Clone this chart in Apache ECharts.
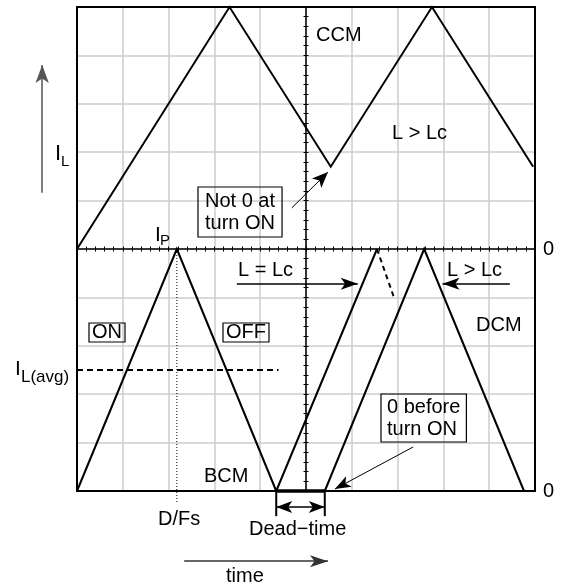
<!DOCTYPE html>
<html>
<head>
<meta charset="utf-8">
<script src="https://cdn.jsdelivr.net/npm/echarts@6/dist/echarts.min.js"></script>
<style>
html,body{margin:0;padding:0;background:#fff;}
#main{width:562px;height:588px;}
</style>
</head>
<body>
<div id="main"></div>
<script>
// waveforms, in scope divisions (x: 0..10, y: 0..10, middle line = 5)
var ccmWave      = [[0,5],[3.33,10],[5.54,6.7],[7.75,10],[9.96,6.7]];
var bcmWave1     = [[0,0],[2.18,5],[4.35,0]];
var bcmWave2     = [[4.35,0],[6.55,5]];
var bcmWave2Fall = [[6.55,5],[6.92,4]];
var dcmWave      = [[5.41,0],[7.58,5],[9.76,0]];
var deadTimeBase = [[4.35,0],[5.41,0]];
var avgLevel     = [[0,2.5],[4.4,2.5]];
var dfsMark      = [[2.18,5],[2.18,-0.27]];
var deadMarkL    = [[4.35,0],[4.35,-0.52]];
var deadMarkR    = [[5.41,0],[5.41,-0.52]];

// arrows [from, to]
var arrowNot0    = [[4.69,5.85],[5.48,6.59]];
var arrowEqLc    = [[3.49,4.28],[6.13,4.28]];
var arrowGtLc    = [[9.45,4.28],[7.98,4.28]];
var arrowBefore  = [[7.34,0.91],[5.63,0.04]];
var arrowIL      = [[-0.76,6.16],[-0.76,8.8]];
var arrowTime    = [[2.34,-1.45],[5.48,-1.45]];
var arrowDead    = [[4.35,-0.33],[5.41,-0.33]];

// right side tick labels
var rightTickValues = [0, 5];
var rightTickLabels = ['0', '0'];

var FONT = '"Liberation Sans", Arial, Helvetica, sans-serif';

function lineSeries(data, width, type) {
    return {
        type: 'line', data: data, xAxisIndex: 0, yAxisIndex: 0,
        symbol: 'none', clip: false, silent: true, z: 5,
        lineStyle: {color: '#000', width: width, type: type || 'solid', join: 'miter'}
    };
}
function arrowSeries(coords, both, color, width, head) {
    return {
        type: 'lines', coordinateSystem: 'cartesian2d', xAxisIndex: 0, yAxisIndex: 0,
        clip: false, silent: true, z: 6,
        symbol: both ? ['arrow', 'arrow'] : ['none', 'arrow'],
        symbolSize: [both ? head : 0, head],
        lineStyle: {color: color, width: width, opacity: 1, curveness: 0},
        data: [{coords: coords}]
    };
}
function txt(x, y, s, size, extra) {
    var st = {
        text: s, fill: '#000', fontSize: size, fontFamily: FONT,
        align: 'left', textAlign: 'left', verticalAlign: 'middle', textVerticalAlign: 'middle'
    };
    for (var k in extra) st[k] = extra[k];
    return {type: 'text', x: x, y: y, z: 10, silent: true, style: st};
}
function box(x, y, s, pad, lh) {
    return txt(x, y, s, 20, {
        verticalAlign: 'top', textVerticalAlign: 'top',
        borderColor: '#000', borderWidth: 1.2, padding: pad, lineHeight: lh
    });
}

function noAxis(extra) {
    var a = {
        type: 'value', axisLabel: {show: false}, axisTick: {show: false},
        splitLine: {show: false}, axisLine: {show: false}
    };
    for (var k in extra) a[k] = extra[k];
    return a;
}

var option = {
    animation: false,
    grid: {left: 77, right: 27, top: 7, bottom: 97, containLabel: false},
    xAxis: [
        noAxis({min: 0, max: 10, interval: 1, position: 'bottom', z: 1,
            axisLine: {show: true, onZero: false, lineStyle: {color: '#000', width: 2}},
            splitLine: {show: true, showMinLine: false, showMaxLine: false,
                lineStyle: {color: '#cdcdcd', width: 1.5}}}),
        noAxis({min: 0, max: 10, position: 'top', z: 3,
            axisLine: {show: true, onZero: false, lineStyle: {color: '#000', width: 2}}}),
        noAxis({min: -25, max: 25, interval: 1, position: 'bottom', z: 3,
            axisLine: {show: true, onZero: true, onZeroAxisIndex: 2, lineStyle: {color: '#000', width: 1.5}},
            axisTick: {show: true, inside: false, length: 2.5, lineStyle: {color: '#000', width: 1}}}),
        noAxis({min: -25, max: 25, interval: 1, position: 'bottom', z: 3,
            axisLine: {show: false, onZero: true, onZeroAxisIndex: 2},
            axisTick: {show: true, inside: true, length: 2.5, lineStyle: {color: '#000', width: 1}}})
    ],
    yAxis: [
        noAxis({min: 0, max: 10, interval: 1, position: 'left', z: 1,
            axisLine: {show: true, onZero: false, lineStyle: {color: '#000', width: 2}},
            splitLine: {show: true, showMinLine: false, showMaxLine: false,
                lineStyle: {color: '#cdcdcd', width: 1.5}}}),
        noAxis({min: 0, max: 10, interval: 5, position: 'right', z: 3,
            axisLine: {show: true, onZero: false, lineStyle: {color: '#000', width: 2}},
            axisLabel: {show: true, margin: 8, color: '#000', fontSize: 20, fontFamily: FONT,
                formatter: function (v) {
                    var i = rightTickValues.indexOf(v);
                    return i >= 0 ? rightTickLabels[i] : '';
                }}}),
        noAxis({min: -25, max: 25, interval: 1, position: 'left', z: 3,
            axisLine: {show: true, onZero: true, onZeroAxisIndex: 2, lineStyle: {color: '#000', width: 1.5}},
            axisTick: {show: true, inside: false, length: 2.5, lineStyle: {color: '#000', width: 1}}}),
        noAxis({min: -25, max: 25, interval: 1, position: 'left', z: 3,
            axisLine: {show: false, onZero: true, onZeroAxisIndex: 2},
            axisTick: {show: true, inside: true, length: 2.5, lineStyle: {color: '#000', width: 1}}})
    ],
    series: [
        lineSeries(ccmWave, 2),
        lineSeries(bcmWave1, 2),
        lineSeries(bcmWave2, 2),
        lineSeries(bcmWave2Fall, 2, [5, 4]),
        lineSeries(dcmWave, 2),
        lineSeries(deadTimeBase, 3.5),
        lineSeries(avgLevel, 2, [6, 4]),
        lineSeries(dfsMark, 1, [1, 2]),
        lineSeries(deadMarkL, 2),
        lineSeries(deadMarkR, 2),
        arrowSeries(arrowNot0, false, '#000', 1, [10, 16]),
        arrowSeries(arrowEqLc, false, '#000', 1.5, [9, 17]),
        arrowSeries(arrowGtLc, false, '#000', 1.5, [9, 17]),
        arrowSeries(arrowBefore, false, '#000', 1, [9, 16]),
        arrowSeries(arrowIL, false, '#555', 1.5, [10, 18]),
        arrowSeries(arrowTime, false, '#333', 1.5, [9, 18]),
        arrowSeries(arrowDead, true, '#000', 1.5, [9, 16])
    ],
    graphic: {elements: [
        txt(316, 35, 'CCM', 20),
        txt(392, 133, 'L > Lc', 20),
        txt(55, 154, 'I', 22),
        txt(61, 162, 'L', 15),
        txt(155, 235, 'I', 21),
        txt(160, 241, 'P', 15),
        txt(15, 369, 'I', 21),
        txt(21, 377, 'L(avg)', 17),
        txt(238, 270, 'L = Lc', 20),
        txt(447, 270, 'L > Lc', 20),
        txt(476, 325, 'DCM', 20),
        txt(204, 476, 'BCM', 20),
        txt(158, 519, 'D/Fs', 20),
        txt(249, 529, 'Dead\u2212time', 20),
        txt(226, 576, 'time', 20),
        box(198, 187, 'Not 0 at\nturn ON', [3, 7], 22),
        box(89, 323, 'ON', [1, 3], 17),
        box(223, 323, 'OFF', [1, 3], 17),
        box(381, 394, '0 before\nturn ON', [2, 6], 22)
    ]}
};

var myChart = echarts.init(document.getElementById('main'));
myChart.setOption(option);
</script>
</body>
</html>
